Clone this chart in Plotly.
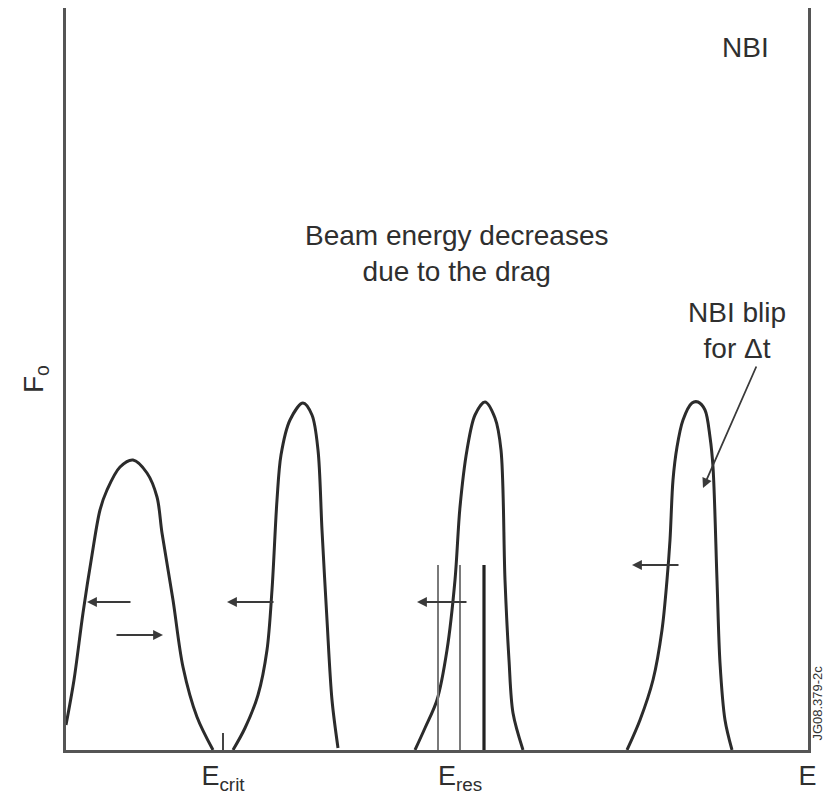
import plotly.graph_objects as go

# ---- data (E and F in arbitrary units) ----
peak1_E = [0, 8, 17, 26, 34, 41, 54, 67, 81, 91, 96, 107, 117, 131, 147]
peak1_F = [25, 70, 137, 195, 240, 260, 283, 290, 277, 253, 217, 150, 83, 33, 0]

peak2_E = [167, 179, 192, 201, 206, 211, 215, 224, 237, 246, 252, 256, 261, 266, 272]
peak2_F = [0, 22, 55, 100, 160, 250, 295, 330, 347, 335, 300, 220, 130, 50, 2]

peak3_E = [349, 359, 371, 381, 389, 394, 401, 409, 419, 429, 435, 439, 443, 447, 457]
peak3_F = [0, 22, 50, 100, 170, 243, 300, 335, 348, 332, 300, 170, 90, 37, 0]

peak4_E = [561, 574, 587, 596, 601, 604, 607, 611, 617, 626, 632, 639, 644, 647, 651, 654, 659, 666]
peak4_F = [0, 30, 70, 120, 170, 210, 270, 303, 330, 347, 348, 340, 313, 283, 170, 87, 30, 0]

res_lines_E = [372, 394, 418]
res_lines_F = 185
res_lines_style = [("#7a7a7a", 2), ("#7a7a7a", 2), ("#222222", 3.2)]

crit_tick_E = 157
crit_tick_F = 17

# drift arrows: (tail_E, tail_F, head_E, head_F)
arrows = [
    (66, 148, 21, 148),
    (49, 115, 97, 115),
    (209, 148, 161, 148),
    (402, 148, 351, 148),
    (614, 185, 566, 185),
]
leader = (691, 385, 637, 262)

tick_vals = [157, 394, 741.5]
tick_text = ["E<sub>crit</sub>", "E<sub>res</sub>", "E"]

E_max = 742
F_max = 742

FONT = "Liberation Sans, Arial, Helvetica, sans-serif"
CURVE = "#2b2b2b"
TXT_COLOR = "#2f2f2f"

fig = go.Figure()

for E, F in [(peak1_E, peak1_F), (peak2_E, peak2_F), (peak3_E, peak3_F), (peak4_E, peak4_F)]:
    fig.add_trace(go.Scatter(x=E, y=F, mode="lines",
                             line=dict(shape="spline", smoothing=0.9, color=CURVE, width=3),
                             hoverinfo="skip", showlegend=False))

for e, (c, w) in zip(res_lines_E, res_lines_style):
    fig.add_trace(go.Scatter(x=[e, e], y=[0, res_lines_F], mode="lines",
                             line=dict(color=c, width=w), hoverinfo="skip", showlegend=False))

fig.add_trace(go.Scatter(x=[crit_tick_E, crit_tick_E], y=[0, crit_tick_F], mode="lines",
                         line=dict(color="#444", width=2), hoverinfo="skip", showlegend=False))

annotations = []
for (te, tf, he, hf) in arrows + [leader]:
    annotations.append(dict(x=he, y=hf, ax=te, ay=tf, xref="x", yref="y", axref="x", ayref="y",
                            text="", showarrow=True, arrowhead=2, arrowsize=1.1,
                            arrowwidth=1.8, arrowcolor="#3a3a3a"))

txt = dict(family=FONT, size=28, color=TXT_COLOR)
annotations += [
    dict(x=679, y=703, xref="x", yref="y", text="NBI", showarrow=False, font=txt),
    dict(x=391, y=497, xref="x", yref="y", text="Beam energy decreases<br>due to the drag",
         showarrow=False, font=txt),
    dict(x=671, y=420, xref="x", yref="y", text="NBI blip<br>for Δt", showarrow=False, font=txt),
    dict(x=1.0, y=0.01, xref="paper", yref="paper", xanchor="left", yanchor="bottom",
         text="JG08.379-2c", showarrow=False, textangle=-90,
         font=dict(family=FONT, size=13, color="#333")),
]

fig.update_layout(
    width=827, height=795,
    margin=dict(l=66, r=19, t=8, b=45, autoexpand=False),
    paper_bgcolor="white", plot_bgcolor="white",
    showlegend=False,
    annotations=annotations,
    xaxis=dict(range=[0, E_max], showgrid=False, zeroline=False, showline=True,
               linecolor="#555", linewidth=2.5, tickvals=tick_vals, ticktext=tick_text,
               ticks="", automargin=False,
               tickfont=dict(family=FONT, size=27, color=TXT_COLOR)),
    yaxis=dict(range=[0, F_max], showgrid=False, zeroline=False, showline=True, mirror=True,
               linecolor="#555", linewidth=2.5, showticklabels=False, ticks="", automargin=False,
               title=dict(text="F<sub>o</sub>", standoff=12,
                          font=dict(family=FONT, size=28, color=TXT_COLOR))),
)

fig.write_html("out.html")
